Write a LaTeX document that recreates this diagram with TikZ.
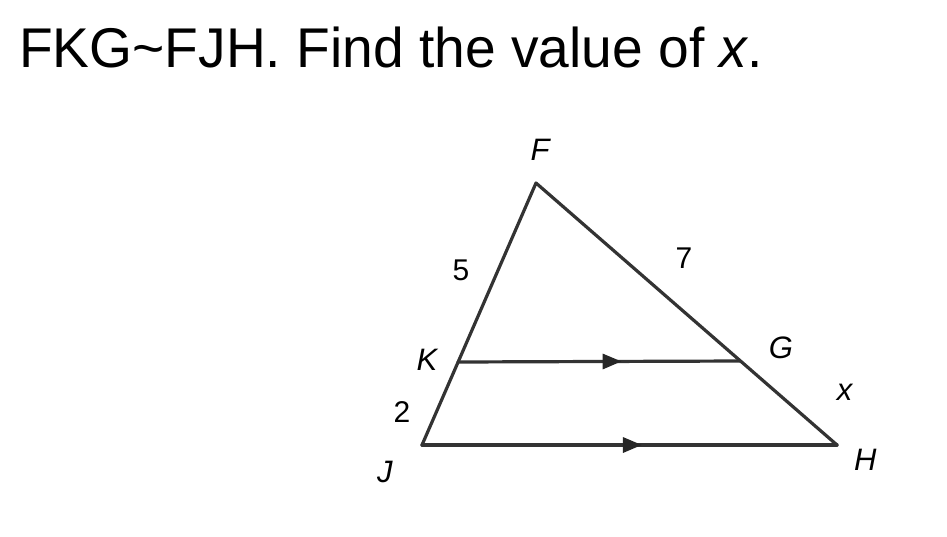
\documentclass[tikz,border=0pt]{standalone}
\usepackage{fontspec}
\setmainfont{Liberation Sans}
\usetikzlibrary{positioning}
\usetikzlibrary{arrows.meta}
\usetikzlibrary{decorations.markings}

\tikzset{
  side/.style={line width=3.2pt, draw=black!80, line cap=round, line join=round},
  vlbl/.style={anchor=center, inner sep=0pt, font=\fontsize{31}{33}\selectfont\itshape},
  slbl/.style={inner sep=0pt, font=\fontsize{30}{32}\selectfont},
  midarrow/.style={postaction={decorate}, decoration={markings, mark=at position #1 with {\arrow[black!85]{Triangle[length=19pt,width=15pt]}}}}
}

\begin{document}
\begin{tikzpicture}[x=1pt, y=-1pt]
\useasboundingbox (0,0) rectangle (947,536);
\node[anchor=base west, inner sep=0pt, font=\fontsize{56}{60}\selectfont, xscale=0.985] (title) at (19,67) {FKG\textasciitilde FJH. Find the value of \textit{x}.};

\coordinate[label={[vlbl,label distance=33pt]83:F}] (F) at (536,183);
\coordinate[label={[vlbl,label distance=31pt]176:K}] (K) at (458,362);
\coordinate[label={[vlbl,label distance=43pt]18:G}] (G) at (740,361);
\coordinate[label={[vlbl,label distance=46pt]216:J}] (J) at (422,445);
\coordinate[label={[vlbl,label distance=32pt]-28:H}] (H) at (837,445);

\draw[side] (F) -- (J) -- (H) -- cycle;
\draw[side, midarrow=0.58] (K) -- (G);
\draw[side, midarrow=0.53] (J) -- (H);
\path (F) -- node[slbl, xshift=-36pt, yshift=2pt] (l5) {5} (K);
\path (F) -- node[slbl, xshift=46pt, yshift=14pt] (l7) {7} (G);
\path (K) -- node[slbl, xshift=-38pt, yshift=-9pt] (l2) {2} (J);
\path (G) -- node[vlbl, xshift=56pt, yshift=11pt] (lx) {x} (H);
\end{tikzpicture}
\end{document}
